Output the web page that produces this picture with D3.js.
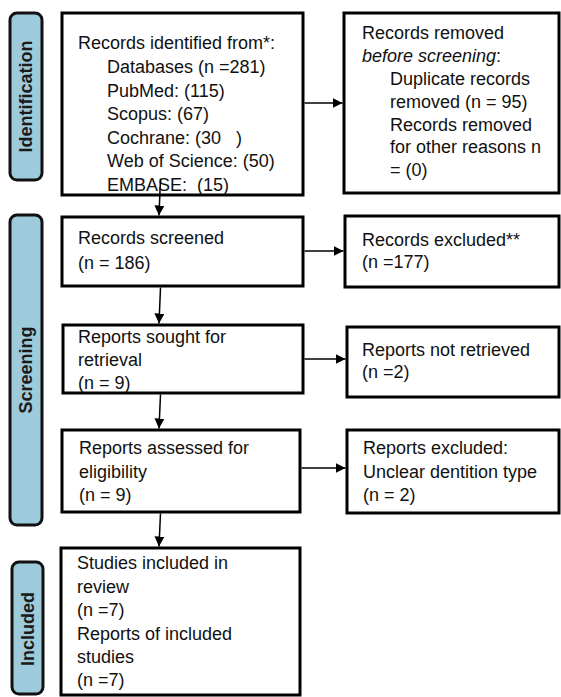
<!DOCTYPE html>
<html><head><meta charset="utf-8">
<script src="https://cdn.jsdelivr.net/npm/d3@7"></script>
<style>body{margin:0;background:#fff}text{font-family:"Liberation Sans",Arial,sans-serif}</style>
</head><body><svg id="c" width="561" height="697"></svg>
<script>
// Stage labels
const stages = ["Identification", "Screening", "Included"];
// Box texts: [text, indent?, italicPart?]
const boxIdentified = [["Records identified from*:",0],["Databases (n =281)",1],["PubMed: (115)",1],["Scopus: (67)",1],["Cochrane: (30   )",1],["Web of Science: (50)",1],["EMBASE:  (15)",1]];
const boxRemoved = [["Records removed",0],["before screening:",0,"italic"],["Duplicate records",1],["removed (n = 95)",1],["Records removed",1],["for other reasons n",1],["= (0)",1]];
const boxScreened = [["Records screened",0],["(n = 186)",0]];
const boxExcluded = [["Records excluded**",0],["(n =177)",0]];
const boxSought = [["Reports sought for",0],["retrieval",0],["(n = 9)",0]];
const boxNotRetrieved = [["Reports not retrieved",0],["(n =2)",0]];
const boxAssessed = [["Reports assessed for",0],["eligibility",0],["(n = 9)",0]];
const boxReportsExcluded = [["Reports excluded:",0],["Unclear dentition type",0],["(n = 2)",0]];
const boxIncluded = [["Studies included in",0],["review",0],["(n =7)",0],["Reports of included",0],["studies",0],["(n =7)",0]];

const svg = d3.select("#c");
const defs = svg.append("defs");
defs.append("marker").attr("id","ah").attr("viewBox","0 0 10 10").attr("refX",10).attr("refY",5)
  .attr("markerWidth",10).attr("markerHeight",10).attr("markerUnits","userSpaceOnUse").attr("orient","auto")
  .append("path").attr("d","M0,0L10,5L0,10Z").attr("fill","#000");

// Sidebars
const sideData = [
  {label:stages[0], x:10, y:13, w:32, h:167, cy:96.5},
  {label:stages[1], x:10, y:215, w:32, h:310, cy:370},
  {label:stages[2], x:12, y:562, w:31, h:132, cy:629}
];
const sg = svg.selectAll("g.side").data(sideData).join("g").attr("class","side");
sg.append("rect").attr("x",d=>d.x).attr("y",d=>d.y).attr("width",d=>d.w).attr("height",d=>d.h)
  .attr("rx",7).attr("fill","#9dcbdb").attr("stroke","#111").attr("stroke-width",3);
sg.append("text").attr("transform",d=>`translate(${d.x+d.w/2},${d.cy}) rotate(-90)`)
  .attr("text-anchor","middle").attr("dy","0.36em")
  .attr("font-size",18).attr("font-weight","bold").attr("fill","#1a1a1a").text(d=>d.label);

// Boxes
const boxes = [
  {lines:boxIdentified, x:62, y:13, w:241, h:182, tx:78, ix:107, y0:43, dy:23.6},
  {lines:boxRemoved, x:344, y:13, w:215, h:180, tx:362, ix:390, y0:33, dy:22.8},
  {lines:boxScreened, x:62, y:217, w:241, h:69, tx:78, ix:78, y0:238, dy:25},
  {lines:boxExcluded, x:345, y:216, w:214, h:71, tx:362, ix:362, y0:240, dy:22},
  {lines:boxSought, x:63, y:325, w:240, h:68, tx:78, ix:78, y0:337, dy:23},
  {lines:boxNotRetrieved, x:347, y:327, w:212, h:70, tx:362, ix:362, y0:350, dy:22},
  {lines:boxAssessed, x:62, y:430, w:238, h:82, tx:79, ix:79, y0:448, dy:23.5},
  {lines:boxReportsExcluded, x:347, y:430, w:212, h:83, tx:363, ix:363, y0:448, dy:23.5},
  {lines:boxIncluded, x:61, y:548, w:239, h:147, tx:77, ix:77, y0:563, dy:23.4}
];
const bg = svg.selectAll("g.box").data(boxes).join("g").attr("class","box");
bg.append("rect").attr("x",d=>d.x).attr("y",d=>d.y).attr("width",d=>d.w).attr("height",d=>d.h)
  .attr("fill","#fff").attr("stroke","#000").attr("stroke-width",3);
bg.each(function(d){
  const g = d3.select(this);
  d.lines.forEach((l,i)=>{
    const t = g.append("text").attr("x", l[1]? d.ix : d.tx).attr("y", d.y0 + i*d.dy)
      .attr("dy","0.36em").attr("font-size",18).attr("fill","#111").style("white-space","pre");
    if(l[2]==="italic"){
      t.append("tspan").attr("font-style","italic").text(l[0].replace(/:$/,""));
      t.append("tspan").text(":");
    } else t.text(l[0]);
  });
});

// Arrows
const arrows = [
  [303,103,344,103],[159,177,159,217],[303,251,345,251],[159,286,159,325],
  [303,359,347,359],[159,393,159,430],[300,468,347,468],[159,512,159,548]
];
svg.selectAll("line.ar").data(arrows).join("line").attr("class","ar")
  .attr("x1",d=>d[0]+1.5).attr("y1",d=>d[1]+(d[1]===d[3]?0:1.5)).attr("x2",d=>d[2]-(d[1]===d[3]?1.5:0)).attr("y2",d=>d[3]-(d[1]===d[3]?0:1.5))
  .attr("stroke","#000").attr("stroke-width",1.5).attr("marker-end","url(#ah)");
</script></body></html>
